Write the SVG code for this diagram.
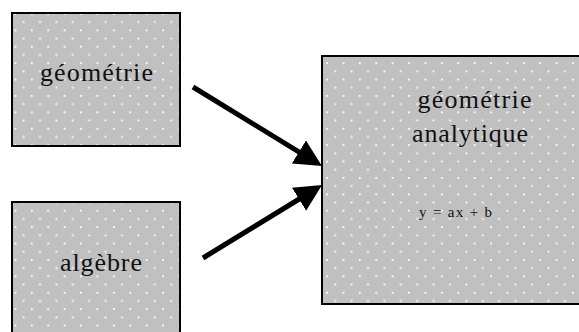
<svg xmlns="http://www.w3.org/2000/svg" width="579" height="332" viewBox="0 0 579 332">
  <defs>
    <pattern id="dots" patternUnits="userSpaceOnUse" x="14.5" y="13" width="16.4" height="16.4">
      <rect width="16.4" height="16.4" fill="#c0c0c0"/>
      <rect x="0" y="0" width="1.8" height="1.8" fill="#ffffff"/>
      <rect x="8.2" y="8.2" width="1.8" height="1.8" fill="#ffffff"/>
    </pattern>
    <marker id="head" markerUnits="userSpaceOnUse" markerWidth="28" markerHeight="28" refX="7" refY="13.5" orient="auto">
      <path d="M0,0 L27,13.5 L0,27 Z" fill="#000"/>
    </marker>
  </defs>
  <style>
    .box { fill: url(#dots); stroke: #000; stroke-width: 2; }
    .lbl { font-family: "Liberation Serif", "Times New Roman", serif; font-size: 26px; fill: #111; }
    .eq { font-family: "Liberation Serif", "Times New Roman", serif; font-size: 15px; fill: #111; }
    .conn { stroke: #000; stroke-width: 5; fill: none; marker-end: url(#head); }
  </style>
  <g id="node-geometrie">
    <rect class="box" x="12" y="13" width="168" height="133"/>
    <text class="lbl" x="96.5" y="81" text-anchor="middle" textLength="113" lengthAdjust="spacing">géométrie</text>
  </g>
  <g id="node-algebre">
    <rect class="box" x="12" y="202" width="168" height="150"/>
    <text class="lbl" x="101" y="271" text-anchor="middle" textLength="82" lengthAdjust="spacing">algèbre</text>
  </g>
  <g id="node-geometrie-analytique">
    <rect class="box" x="322" y="56" width="262" height="248"/>
    <text class="lbl" x="474.5" y="108" text-anchor="middle" textLength="114" lengthAdjust="spacing">géométrie</text>
    <text class="lbl" x="470" y="142" text-anchor="middle" textLength="116" lengthAdjust="spacing">analytique</text>
    <text class="eq" x="419" y="217" textLength="73" lengthAdjust="spacing">y = ax + b</text>
  </g>
  <g id="connectors">
    <line class="conn" x1="193" y1="87" x2="304.9" y2="155.6"/>
    <line class="conn" x1="203" y1="258" x2="305" y2="195.5"/>
  </g>
</svg>
